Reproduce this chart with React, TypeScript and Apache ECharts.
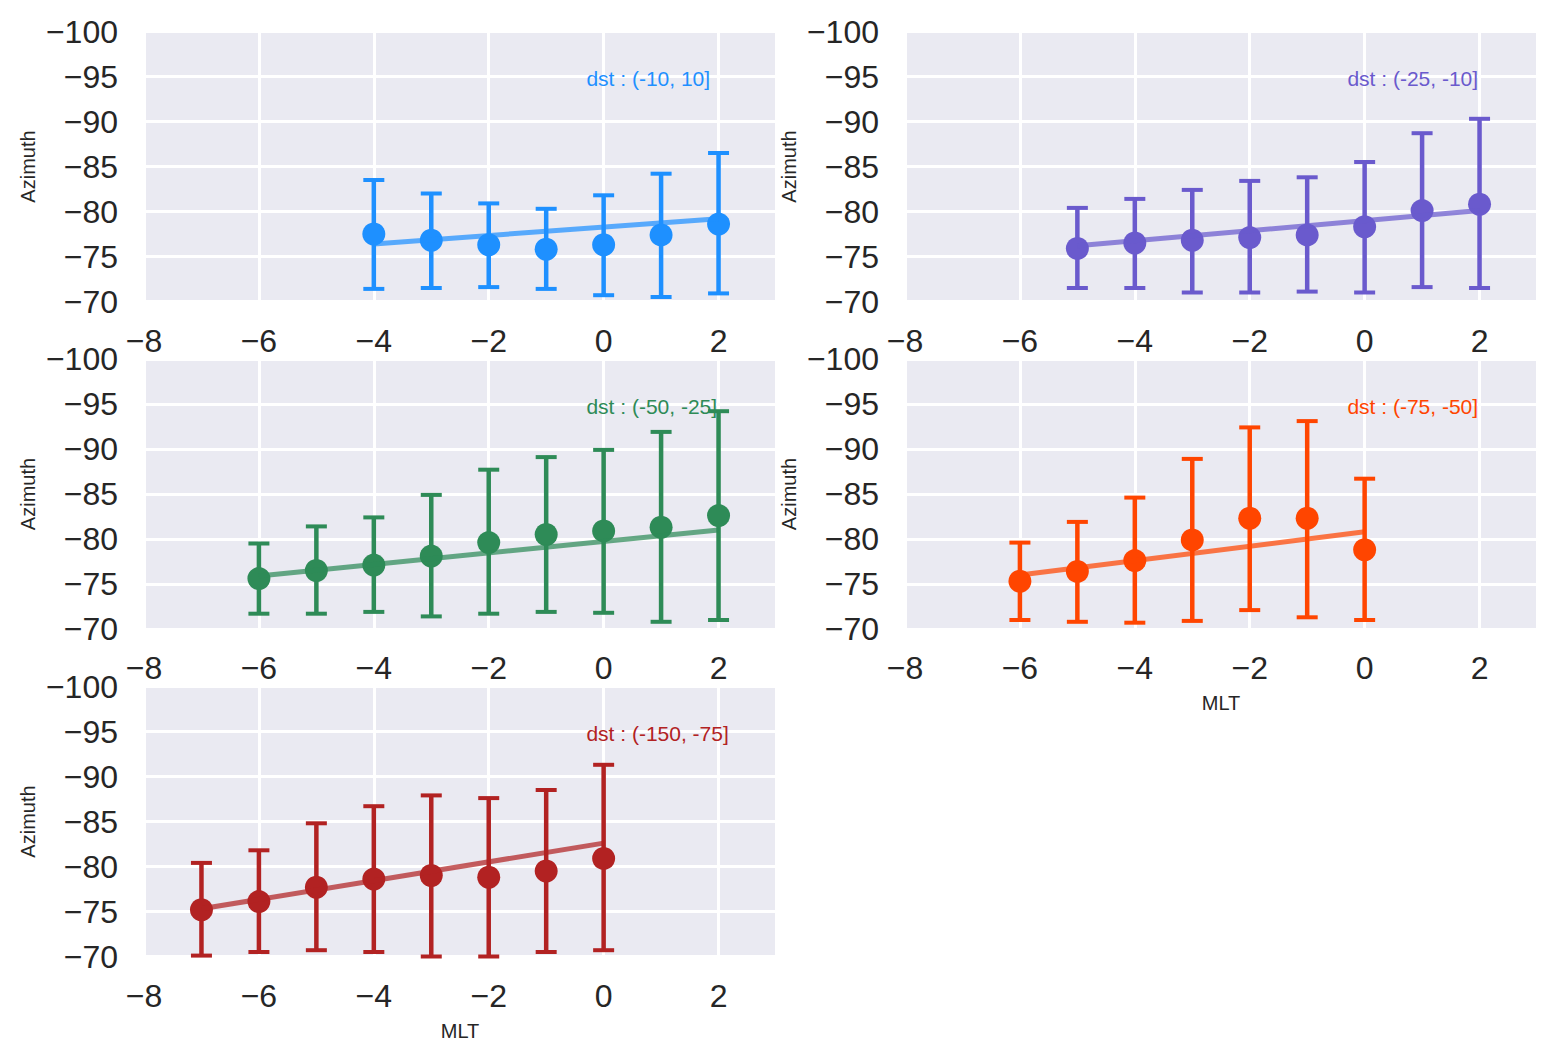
import React, { useEffect, useRef } from "react";
import * as echarts from "echarts";

// ---- data ----
const titles = ["dst : (-10, 10]", "dst : (-25, -10]", "dst : (-50, -25]", "dst : (-75, -50]", "dst : (-150, -75]"];
const colors = ["#1E90FF", "#6A5ACD", "#2E8B57", "#FF4500", "#B22222"];

const x1 = [-4, -3, -2, -1, 0, 1, 2];
const mean1 = [-77.5, -76.8, -76.3, -75.8, -76.3, -77.4, -78.6];
const upper1 = [-83.5, -82.0, -80.9, -80.3, -81.8, -84.2, -86.5];
const lower1 = [-71.4, -71.5, -71.6, -71.4, -70.7, -70.5, -70.9];
const fitX1 = [-4, 2];
const fitY1 = [-76.4, -79.2];

const x2 = [-5, -4, -3, -2, -1, 0, 1, 2];
const mean2 = [-75.9, -76.5, -76.8, -77.1, -77.4, -78.3, -80.1, -80.8];
const upper2 = [-80.4, -81.4, -82.4, -83.4, -83.8, -85.5, -88.7, -90.3];
const lower2 = [-71.5, -71.5, -71.0, -71.0, -71.1, -71.0, -71.6, -71.5];
const fitX2 = [-5, 2];
const fitY2 = [-76.2, -80.1];

const x3 = [-6, -5, -4, -3, -2, -1, 0, 1, 2];
const mean3 = [-75.6, -76.5, -77.1, -78.1, -79.6, -80.5, -80.9, -81.3, -82.6];
const upper3 = [-79.5, -81.4, -82.4, -84.9, -87.7, -89.1, -89.9, -91.9, -94.2];
const lower3 = [-71.7, -71.7, -71.9, -71.4, -71.7, -71.9, -71.8, -70.8, -71.0];
const fitX3 = [-6, 2];
const fitY3 = [-75.9, -81.0];

const x4 = [-6, -5, -4, -3, -2, -1, 0];
const mean4 = [-75.3, -76.4, -77.6, -79.9, -82.3, -82.3, -78.8];
const upper4 = [-79.6, -81.9, -84.6, -88.9, -92.4, -93.1, -86.7];
const lower4 = [-71.0, -70.8, -70.7, -70.9, -72.1, -71.3, -71.0];
const fitX4 = [-6, 0];
const fitY4 = [-76.0, -80.8];

const x5 = [-7, -6, -5, -4, -3, -2, -1, 0];
const mean5 = [-75.2, -76.1, -77.7, -78.6, -79.0, -78.8, -79.5, -80.9];
const upper5 = [-80.4, -81.8, -84.8, -86.7, -87.9, -87.6, -88.5, -91.3];
const lower5 = [-70.1, -70.5, -70.7, -70.5, -70.0, -70.0, -70.5, -70.7];
const fitX5 = [-7, 0];
const fitY5 = [-75.3, -82.6];

const annotX = -0.3;
const annotY = -94;

const xMin = -8, xMax = 3, xStep = 2;
const yMin = -100, yMax = -70, yStep = 5;

const panels = [
  { x: x1, mean: mean1, upper: upper1, lower: lower1, fx: fitX1, fy: fitY1 },
  { x: x2, mean: mean2, upper: upper2, lower: lower2, fx: fitX2, fy: fitY2 },
  { x: x3, mean: mean3, upper: upper3, lower: lower3, fx: fitX3, fy: fitY3 },
  { x: x4, mean: mean4, upper: upper4, lower: lower4, fx: fitX4, fy: fitY4 },
  { x: x5, mean: mean5, upper: upper5, lower: lower5, fx: fitX5, fy: fitY5 },
];

const FONT = "'Liberation Sans', Arial, sans-serif";
const TXT = "#262626";
const fmt = (v: number) => (v < 0 ? "\u2212" + Math.abs(v) : String(v));

export default function App() {
  const ref = useRef<HTMLDivElement>(null);
  useEffect(() => {
    document.body.style.margin = "0";
    const chart = echarts.init(ref.current!, null, { renderer: "svg" });
    const colLeft = [144, 905];
    const rowTop = [31.5, 359, 686.5];
    const W = 632, H = 270;

    const grid: any[] = [];
    const xAxis: any[] = [];
    const yAxis: any[] = [];
    const series: any[] = [];

    panels.forEach((p, i) => {
      const col = i % 2, row = Math.floor(i / 2);
      const color = colors[i];
      grid.push({
        left: colLeft[col], top: rowTop[row], width: W, height: H,
        show: true, backgroundColor: "#EAEAF2", borderWidth: 0, containLabel: false,
      });
      const showName = i === 3 || i === 4;
      xAxis.push({
        type: "value", gridIndex: i, min: xMin, max: xMax, interval: xStep,
        axisLine: { show: false }, axisTick: { show: false },
        axisLabel: { formatter: fmt, fontSize: 32, color: TXT, fontFamily: FONT, margin: 23, showMaxLabel: false },
        splitLine: { show: true, lineStyle: { color: "#ffffff", width: 3 } },
        name: showName ? "MLT" : "", nameLocation: "middle", nameGap: 64,
        nameTextStyle: { fontSize: 20, color: TXT, fontFamily: FONT },
      });
      yAxis.push({
        type: "value", gridIndex: i, min: yMin, max: yMax, interval: yStep, inverse: true,
        axisLine: { show: false }, axisTick: { show: false },
        axisLabel: { formatter: fmt, fontSize: 32, color: TXT, fontFamily: FONT, margin: 26 },
        splitLine: { show: true, lineStyle: { color: "#ffffff", width: 3 } },
        name: "Azimuth", nameLocation: "middle", nameGap: 106,
        nameTextStyle: { fontSize: 20, color: TXT, fontFamily: FONT },
      });
      series.push({
        type: "custom", xAxisIndex: i, yAxisIndex: i, z: 2, silent: true,
        encode: { x: 0, y: [1, 2] },
        data: p.x.map((xv, k) => [xv, p.lower[k], p.upper[k]]),
        renderItem: (params: any, api: any) => {
          const a = api.coord([api.value(0), api.value(1)]);
          const b = api.coord([api.value(0), api.value(2)]);
          const hw = 10.5;
          const st = { stroke: color, lineWidth: 4.5, fill: null };
          const cs = { stroke: color, lineWidth: 4, fill: null };
          return {
            type: "group",
            children: [
              { type: "line", shape: { x1: a[0], y1: a[1], x2: b[0], y2: b[1] }, style: st },
              { type: "line", shape: { x1: a[0] - hw, y1: a[1], x2: a[0] + hw, y2: a[1] }, style: cs },
              { type: "line", shape: { x1: b[0] - hw, y1: b[1], x2: b[0] + hw, y2: b[1] }, style: cs },
            ],
          };
        },
      });
      series.push({
        type: "scatter", xAxisIndex: i, yAxisIndex: i, z: 3, silent: true,
        symbol: "circle", symbolSize: 23,
        itemStyle: { color, opacity: 1 },
        data: p.x.map((xv, k) => [xv, p.mean[k]]),
      });
      series.push({
        type: "line", xAxisIndex: i, yAxisIndex: i, z: 4, silent: true,
        showSymbol: false, symbol: "none",
        lineStyle: { color, width: 5, opacity: 0.72 },
        data: p.fx.map((xv, k) => [xv, p.fy[k]]),
      });
      series.push({
        type: "scatter", xAxisIndex: i, yAxisIndex: i, z: 5, silent: true,
        symbolSize: 0,
        itemStyle: { color, opacity: 1 },
        data: [[annotX, annotY]],
        label: {
          show: true, position: "right", distance: 0, offset: [0, -7],
          formatter: titles[i], color, opacity: 1, fontSize: 21, fontFamily: FONT,
        },
      });
    });

    chart.setOption({
      animation: false,
      backgroundColor: "#ffffff",
      textStyle: { fontFamily: FONT },
      grid, xAxis, yAxis, series,
    });
    return () => chart.dispose();
  }, []);
  return <div ref={ref} style={{ position: "absolute", left: 0, top: 0, width: 1553, height: 1059 }} />;
}
